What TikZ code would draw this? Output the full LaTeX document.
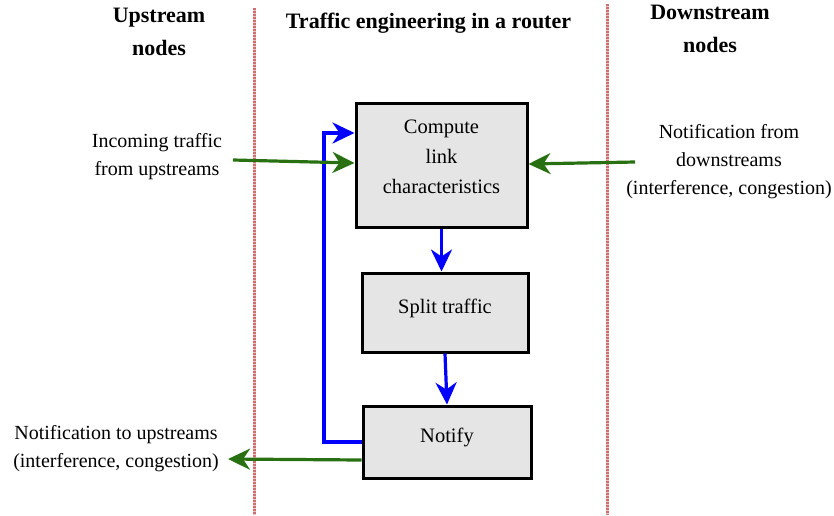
\documentclass[tikz,border=0pt]{standalone}
\usepackage{fontspec}
\setmainfont{Liberation Serif}
\usetikzlibrary{arrows.meta}
\definecolor{boxgray}{RGB}{229,229,229}
\definecolor{flowgreen}{RGB}{40,112,18}
\definecolor{flowblue}{RGB}{0,0,255}
\definecolor{borderpink}{RGB}{236,196,196}
\definecolor{borderred}{RGB}{206,112,112}
\tikzset{
  stagebox/.style={draw=black, line width=3pt, fill=boxgray, inner sep=0pt},
  boxtext/.style={align=center, font=\fontsize{20.5}{30}\selectfont},
  plaintext/.style={align=center, font=\fontsize{20}{28}\selectfont},
  heading/.style={align=center, font=\fontsize{22}{33}\selectfont\bfseries},
  dividerbase/.style={draw=borderpink, line width=3pt},
  dividerdots/.style={draw=borderred, line width=3pt, dash pattern=on 1.5pt off 1.5pt},
  bluearrow/.style={draw=flowblue, line width=3.2pt, -{Stealth[length=22pt, width=21pt, inset=7pt]}},
  greenarrow/.style={draw=flowgreen, line width=3.2pt, -{Stealth[length=22pt, width=21pt, inset=7pt]}},
}
\begin{document}
\begin{tikzpicture}[x=1pt, y=-1pt]
\useasboundingbox (0,0) rectangle (834,515);

% column dividers
\draw[dividerbase] (254,8) -- (254,515);
\draw[dividerdots] (254,8) -- (254,515);
\draw[dividerbase] (607,4) -- (607,515);
\draw[dividerdots] (607,4) -- (607,515);

% headings
\node[heading] (hup) at (159,32) {Upstream\\nodes};
\node[heading] (hmid) at (428.5,23) {Traffic engineering in a router};
\node[heading] (hdown) at (710,29) {Downstream\\nodes};

% processing stages
\node[stagebox, minimum width=171pt, minimum height=124pt] (comp) at (441.5,165) {};
\node[boxtext] (comptxt) at (441.5,157) {Compute\\link\\characteristics};
\node[stagebox, minimum width=166pt, minimum height=79pt] (split) at (445,312.5) {};
\node[boxtext] (splittxt) at (445,308) {Split traffic};
\node[stagebox, minimum width=168pt, minimum height=72pt] (notify) at (447,442) {};
\node[boxtext] (notifytxt) at (447,437) {Notify};

% side labels
\node[plaintext] (inlbl) at (157,157) {Incoming traffic\\from upstreams};
\node[plaintext] (dnlbl) at (729,162) {Notification from\\downstreams\\(interference, congestion)};
\node[plaintext] (uplbl) at (116,449) {Notification to upstreams\\(interference, congestion)};

% free ends of the external flows
\coordinate (inend) at (233,160);
\coordinate (dnend) at (635,162);
\coordinate (upend) at (228,459);
\coordinate (loopx) at (324,442);

% internal flow
\draw[bluearrow] (comp.south) -- (comp.south |- split.north);
\draw[bluearrow] (split.south) -- (notify.north);
\draw[bluearrow] (notify.west) -- (loopx) |- ([yshift=32pt]comp.west);

% external flows
\draw[greenarrow] (inend) -- ([yshift=2pt]comp.west);
\draw[greenarrow] (dnend) -- ([yshift=1pt]comp.east);
\draw[greenarrow] ([yshift=-18pt]notify.west) -- (upend);
\end{tikzpicture}
\end{document}
